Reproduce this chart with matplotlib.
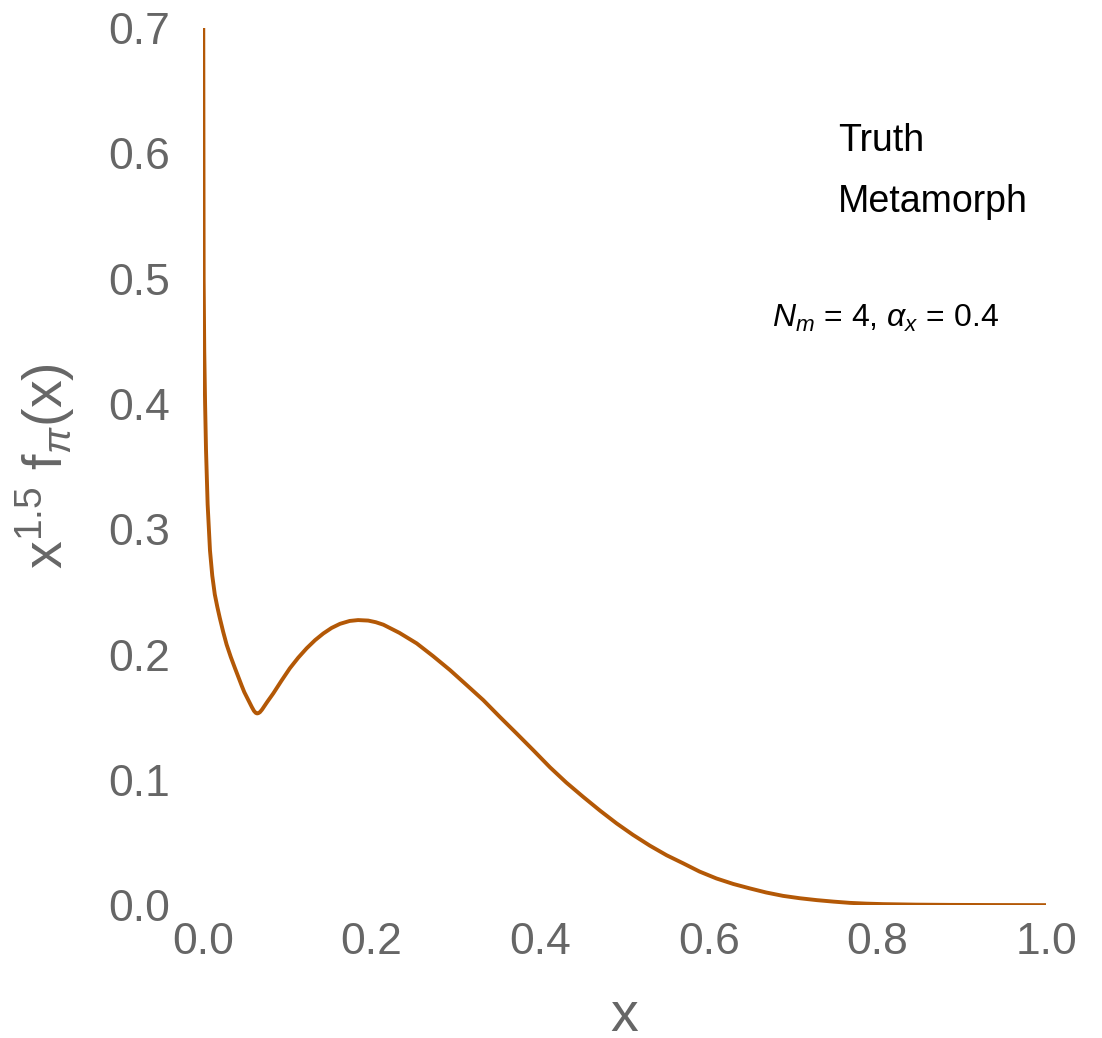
import matplotlib
matplotlib.use('Agg')
import matplotlib.pyplot as plt
from matplotlib.lines import Line2D

# values
x_vals = [0.0003, 0.0008, 0.0015, 0.0025, 0.0036, 0.0055, 0.0083, 0.011, 0.014,
          0.017, 0.020, 0.024, 0.028, 0.033, 0.038, 0.042, 0.046, 0.049, 0.052,
          0.055, 0.058, 0.0605, 0.0625, 0.064, 0.0656, 0.0675, 0.070, 0.076,
          0.0834, 0.093, 0.103, 0.113, 0.123, 0.133, 0.1427, 0.1525, 0.1625,
          0.174, 0.184, 0.196, 0.205, 0.214, 0.233, 0.2535, 0.273, 0.293,
          0.3125, 0.3325, 0.352, 0.372, 0.392, 0.4116, 0.431, 0.451, 0.471,
          0.4907, 0.510, 0.530, 0.550, 0.5698, 0.589, 0.609, 0.629, 0.649,
          0.668, 0.688, 0.708, 0.728, 0.748, 0.7675, 0.787, 0.807, 0.846,
          0.886, 0.93, 1.0]
y_vals = [0.72, 0.499, 0.443, 0.400, 0.363, 0.320, 0.283, 0.263, 0.248,
          0.238, 0.229, 0.218, 0.208, 0.198, 0.189, 0.182, 0.175, 0.170, 0.166,
          0.162, 0.158, 0.155, 0.1535, 0.153, 0.1532, 0.154, 0.156, 0.162,
          0.169, 0.179, 0.189, 0.1975, 0.205, 0.2115, 0.2168, 0.2212, 0.2245,
          0.2268, 0.2275, 0.2271, 0.2258, 0.2238, 0.2173, 0.2089, 0.1987, 0.1876,
          0.1758, 0.1636, 0.1503, 0.137, 0.1235, 0.110, 0.0978, 0.0864, 0.0754,
          0.0652, 0.0561, 0.0475, 0.0398, 0.0333, 0.0268, 0.0213, 0.0169, 0.0133,
          0.0101, 0.0074, 0.0055, 0.0040, 0.0028, 0.0018, 0.0012, 0.0008, 0.0004,
          0.0002, 0.0001, 0.0]
x_ticks = [0.0, 0.2, 0.4, 0.6, 0.8, 1.0]
y_ticks = [0.0, 0.1, 0.2, 0.3, 0.4, 0.5, 0.6, 0.7]
legend_labels = ['Truth', 'Metamorph']

plt.rcParams['font.family'] = ['Liberation Sans', 'DejaVu Sans']
plt.rcParams['mathtext.fontset'] = 'custom'
plt.rcParams['mathtext.it'] = 'Liberation Sans:italic'
plt.rcParams['mathtext.rm'] = 'Liberation Sans'

fig = plt.figure(figsize=(11.02, 10.38), dpi=100)
ax = fig.add_axes([0.1842, 0.128, 0.765, 0.845])

ax.plot(x_vals, y_vals, color='#b35806', lw=2.8, solid_joinstyle='round')

ax.set_xlim(0, 1)
ax.set_ylim(0, 0.7)
ax.set_xticks(x_ticks)
ax.set_yticks(y_ticks)
ax.set_xticklabels(['%.1f' % v for v in x_ticks])
ax.set_yticklabels(['%.1f' % v for v in y_ticks])
ax.tick_params(axis='both', length=0, labelsize=32, labelcolor='#666666')
ax.tick_params(axis='y', pad=24)
ax.tick_params(axis='x', pad=12)
for s in ax.spines.values():
    s.set_visible(False)

ax.set_xlabel('x', fontsize=40, color='#666666', labelpad=20)
ax.set_ylabel(r'x$^{1.5}$ f$_{\pi}$(x)', fontsize=40, color='#666666', labelpad=22)

handles = [Line2D([], [], color='none') for _ in legend_labels]
leg = ax.legend(handles, legend_labels, loc='upper left', bbox_to_anchor=(0.713, 0.93),
                frameon=False, fontsize=27, handlelength=0, handletextpad=0,
                labelspacing=0.65)

ax.text(0.81, 0.669, r'$N_m$ = 4, $\alpha_x$ = 0.4', transform=ax.transAxes,
        ha='center', va='center', fontsize=23)

fig.savefig('out.png', dpi=100, facecolor='white')
